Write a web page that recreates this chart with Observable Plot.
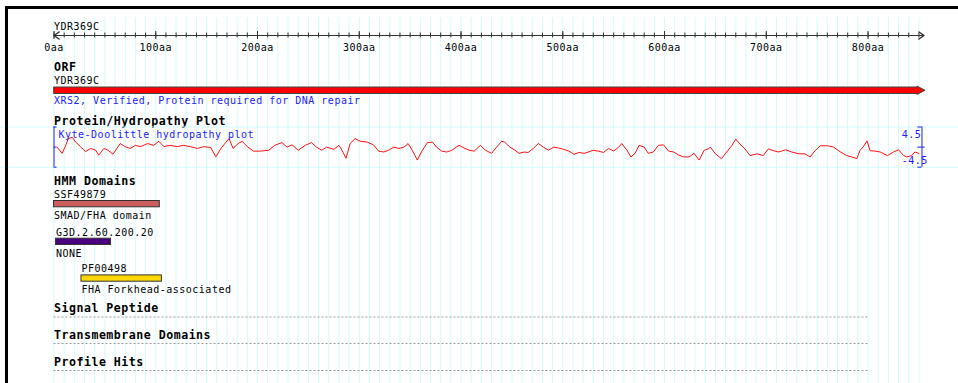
<!DOCTYPE html>
<html><head><meta charset="utf-8">
<script src="https://cdn.jsdelivr.net/npm/d3@7"></script>
<script src="https://cdn.jsdelivr.net/npm/@observablehq/plot@0.6"></script>
<style>
html,body{margin:0;padding:0;background:#fff;}
#wrap{position:relative;width:958px;height:383px;background:#fff;}
#wrap svg{position:absolute;left:0;top:0;max-width:none;}
#wrap svg.hyd{top:115px;pointer-events:none;}
#wrap svg.hyd text{pointer-events:auto;}
#frameTop{position:absolute;left:5px;top:6px;width:953px;height:3px;background:#000;pointer-events:none;}
#frameLeft{position:absolute;left:5px;top:6px;width:3px;height:377px;background:#000;pointer-events:none;}
svg text{letter-spacing:0.5px;}
</style></head><body>
<div id="wrap"><div id="frameTop"></div><div id="frameLeft"></div></div>
<script>
// ---------- data ----------
const orfName = "YDR369C";
const orfDesc = "XRS2, Verified, Protein required for DNA repair";
const proteinLength = 854;
const majorTicks = [0, 100, 200, 300, 400, 500, 600, 700, 800];
const tickLabels = ["0aa", "100aa", "200aa", "300aa", "400aa", "500aa", "600aa", "700aa", "800aa"];
const trackTitles = ["ORF", "Protein/Hydropathy Plot", "HMM Domains", "Signal Peptide", "Transmembrane Domains", "Profile Hits"];
const hydroTitle = "Kyte-Doolittle hydropathy plot";
const hydroLimits = [-4.5, 4.5];

const domainIds = ["SSF49879", "G3D.2.60.200.20", "PF00498"];
const domainStart = [0, 2, 27];
const domainEnd = [104, 56, 106];
const domainDesc = ["SMAD/FHA domain", "NONE", "FHA Forkhead-associated"];

const hydroPos = [3,8,11,14,18,21,26,31,36,41,44,49,53,58,65,70,75,80,85,92,98,103,108,114,121,127,134,141,147,154,159,164,169,172,176,181,185,190,196,203,211,
217,224,229,234,240,247,253,258,263,268,275,280,283,287,291,296,301,308,314,319,324,329,334,339,344,348,352,357,362,367,372,376,381,386,391,398,403,408,413,419,424,
430,435,440,443,448,453,457,462,466,471,476,481,486,491,496,501,506,511,516,521,525,530,535,540,545,550,555,558,563,567,571,575,580,584,589,594,599,604,609,614,619,624,629,634,639,
643,645,650,656,661,666,670,674,679,684,691,697,702,707,712,719,725,732,738,743,748,753,760,766,773,779,784,789,792,796,799,802,807,812,819,825,830,835,838,843,846,850];
const hydroVal = [0.0,-1.4,0.1,1.9,2.2,1.2,0.1,-1.0,-0.3,-0.7,-1.8,-0.3,-0.7,-1.6,0.8,0.1,-0.3,0.4,0.1,0.8,0.4,1.3,0.1,0.4,0.1,0.4,0.1,-0.3,0.1,-0.1,-2.2,-0.3,1.1,1.9,-0.3,0.8,1.3,0.1,-0.9,-0.9,-0.7,
0.4,1.0,0.0,0.5,-0.7,0.4,1.0,0.0,-0.7,0.0,-0.5,0.4,-0.7,-2.5,0.8,1.9,1.3,1.1,0.5,-0.9,-1.1,-0.7,0.0,-0.3,0.0,0.8,-0.7,-2.9,-0.7,1.0,1.1,0.0,-0.9,-1.1,-0.7,0.4,-0.2,-0.7,-0.9,0.4,-0.7,
-1.4,0.0,1.3,1.1,0.0,-0.7,-1.4,-1.1,-1.2,-0.3,0.8,0.0,-0.7,0.0,-0.2,-0.5,-0.9,-1.6,-1.2,-1.4,-1.1,-0.7,-0.9,-1.2,-0.3,-0.9,0.0,0.8,-0.7,-2.2,-1.4,0.4,0.0,-1.4,-1.1,0.4,0.5,-0.9,-1.1,-1.8,-2.2,-2.2,-1.4,-2.9,-0.7,
-0.4,0.0,-1.5,-2.6,-1.1,0.3,1.8,0.7,-0.4,-1.9,-1.5,-1.9,-0.4,-0.8,-1.1,-0.6,-1.1,-1.5,-1.5,-2.2,-0.8,0.3,0.3,0.0,-1.1,-1.9,-2.2,-2.6,-0.8,0.3,1.4,-0.8,-0.9,-1.1,-1.9,-1.1,-0.6,-1.9,-2.2,-1.9,-1.1,-1.4];

// ---------- layout / style ----------
const W = 958, H = 383;
const FONT = "'DejaVu Sans Mono', monospace";
const titleBase = [70, 124, 184, 311.7, 338.3, 365];
const dottedY = [316.5, 343, 370];
const domainRowBase = [197.3, 235, 271.7];
const domainColors = ["#cd5c5c", "#4b0082", "#ffd700"];
const gridColor = "#d2fbfb";
const blue = "#1c1cff";
const xScale = {domain: [0, proteinLength], range: [53.5, 922.5], axis: null};
const hydTop = 115, hydH = 60;   // overlay band for the hydropathy track

const minorTicks = d3.range(0, proteinLength, 10);
const gridTicks = d3.range(0, 851, 10);

const domains = domainIds.map((id, i) => ({id, start: domainStart[i], end: domainEnd[i], desc: domainDesc[i], row: domainRowBase[i], color: domainColors[i]}));
const hydro = hydroPos.map((p, i) => ({pos: p, val: hydroVal[i]}));

const orfShape = [
  {x: 0, y: 86.5}, {x: proteinLength - 6, y: 86.5}, {x: proteinLength - 6, y: 85.5},
  {x: proteinLength + 2, y: 89.75},
  {x: proteinLength - 6, y: 94}, {x: proteinLength - 6, y: 93}, {x: 0, y: 93}
];
const arrows = [
  {x: 5, y: 31.5, g: "l"}, {x: 0, y: 35, g: "l"}, {x: 5, y: 38.5, g: "l"},
  {x: proteinLength - 4, y: 31.5, g: "r"}, {x: proteinLength + 1, y: 35, g: "r"}, {x: proteinLength - 4, y: 38.5, g: "r"}
];

const txt = {textAnchor: "start", lineAnchor: "bottom", fontFamily: FONT, fontSize: 10, fill: "#000"};
const bold = {...txt, fontWeight: "bold", fontSize: 11.6};
const atStart = () => 0;

const base = Plot.plot({
  width: W, height: H, margin: 0,
  x: xScale, y: {type: "identity"}, color: {type: "identity"},
  style: {fontFamily: FONT, fontSize: "10px", background: "transparent"},
  marks: [
    Plot.ruleX(gridTicks, {x: d => d, y1: 17, y2: H, stroke: gridColor}),
    // axis
    Plot.ruleY([35], {x1: 0, x2: proteinLength + 1, stroke: "#333"}),
    Plot.ruleX(minorTicks, {x: d => d, y1: 32.5, y2: 37.5, stroke: "#333"}),
    Plot.ruleX(majorTicks, {x: d => d, y1: 31, y2: 39, stroke: "#333"}),
    Plot.line(arrows, {x: "x", y: "y", z: "g", stroke: "#333"}),
    Plot.text(majorTicks, {...txt, x: d => d, y: () => 50, text: (d, i) => tickLabels[i], textAnchor: "middle"}),
    Plot.text([orfName], {...txt, x: atStart, y: () => 29.3, text: d => d}),
    // track titles
    Plot.text(trackTitles, {...bold, x: atStart, y: (d, i) => titleBase[i], text: d => d}),
    // ORF
    Plot.text([orfName], {...txt, x: atStart, y: () => 83.3, text: d => d}),
    Plot.line(orfShape, {x: "x", y: "y", fill: "#ff0000", stroke: "#444", strokeWidth: 1, curve: "linear-closed"}),
    Plot.text([orfDesc], {...txt, x: atStart, y: () => 103.3, text: d => d, fill: blue}),
    // HMM domains
    Plot.text(domains, {...txt, x: "start", y: "row", text: "id"}),
    Plot.rect(domains, {x1: "start", x2: "end", y1: d => d.row + 3.2, y2: d => d.row + 9.5, fill: "color", stroke: "#333", strokeWidth: 1}),
    Plot.text(domains, {...txt, x: "start", y: d => d.row + 21, text: "desc"}),
    // dotted separators
    Plot.ruleY(dottedY, {x1: 0, x2: 801, stroke: "#9a9a9a", strokeDasharray: "2,2"})
  ]
});

const hyd = Plot.plot({
  width: W, height: hydH, margin: 0,
  x: xScale, y: {domain: hydroLimits, range: [166.7 - hydTop, 126.5 - hydTop], axis: null},
  style: {fontFamily: FONT, fontSize: "10px", background: "transparent"},
  marks: [
    Plot.ruleY(hydroLimits, {stroke: gridColor}),
    Plot.line(hydro, {x: "pos", y: "val", stroke: "#ff1010", strokeWidth: 1}),
    // left bracket
    Plot.ruleX([0], {y1: hydroLimits[0], y2: hydroLimits[1], stroke: blue}),
    Plot.ruleY([hydroLimits[0], 0, hydroLimits[1]], {x1: 0, x2: 3, stroke: blue}),
    Plot.text([hydroTitle], {...txt, x: atStart, y: () => hydroLimits[1], dx: 4.5, dy: 10.8, text: d => d, fill: blue}),
    // right bracket
    Plot.ruleX([853], {y1: hydroLimits[0], y2: hydroLimits[1], stroke: blue}),
    Plot.ruleY(hydroLimits, {x1: 849, x2: 853, stroke: blue}),
    Plot.ruleY([0], {x1: 849, x2: 856, stroke: blue}),
    Plot.text([hydroLimits[1]], {...txt, x: () => 833, y: d => d, dy: 11.3, text: d => String(d), fill: blue}),
    Plot.text([hydroLimits[0]], {...txt, x: () => 833, y: d => d, dy: -3.2, text: d => String(d), fill: blue})
  ]
});
hyd.classList.add("hyd");

const wrap = document.getElementById("wrap");
wrap.insertBefore(base, wrap.firstChild);
wrap.insertBefore(hyd, document.getElementById("frameTop"));
</script>
</body></html>
